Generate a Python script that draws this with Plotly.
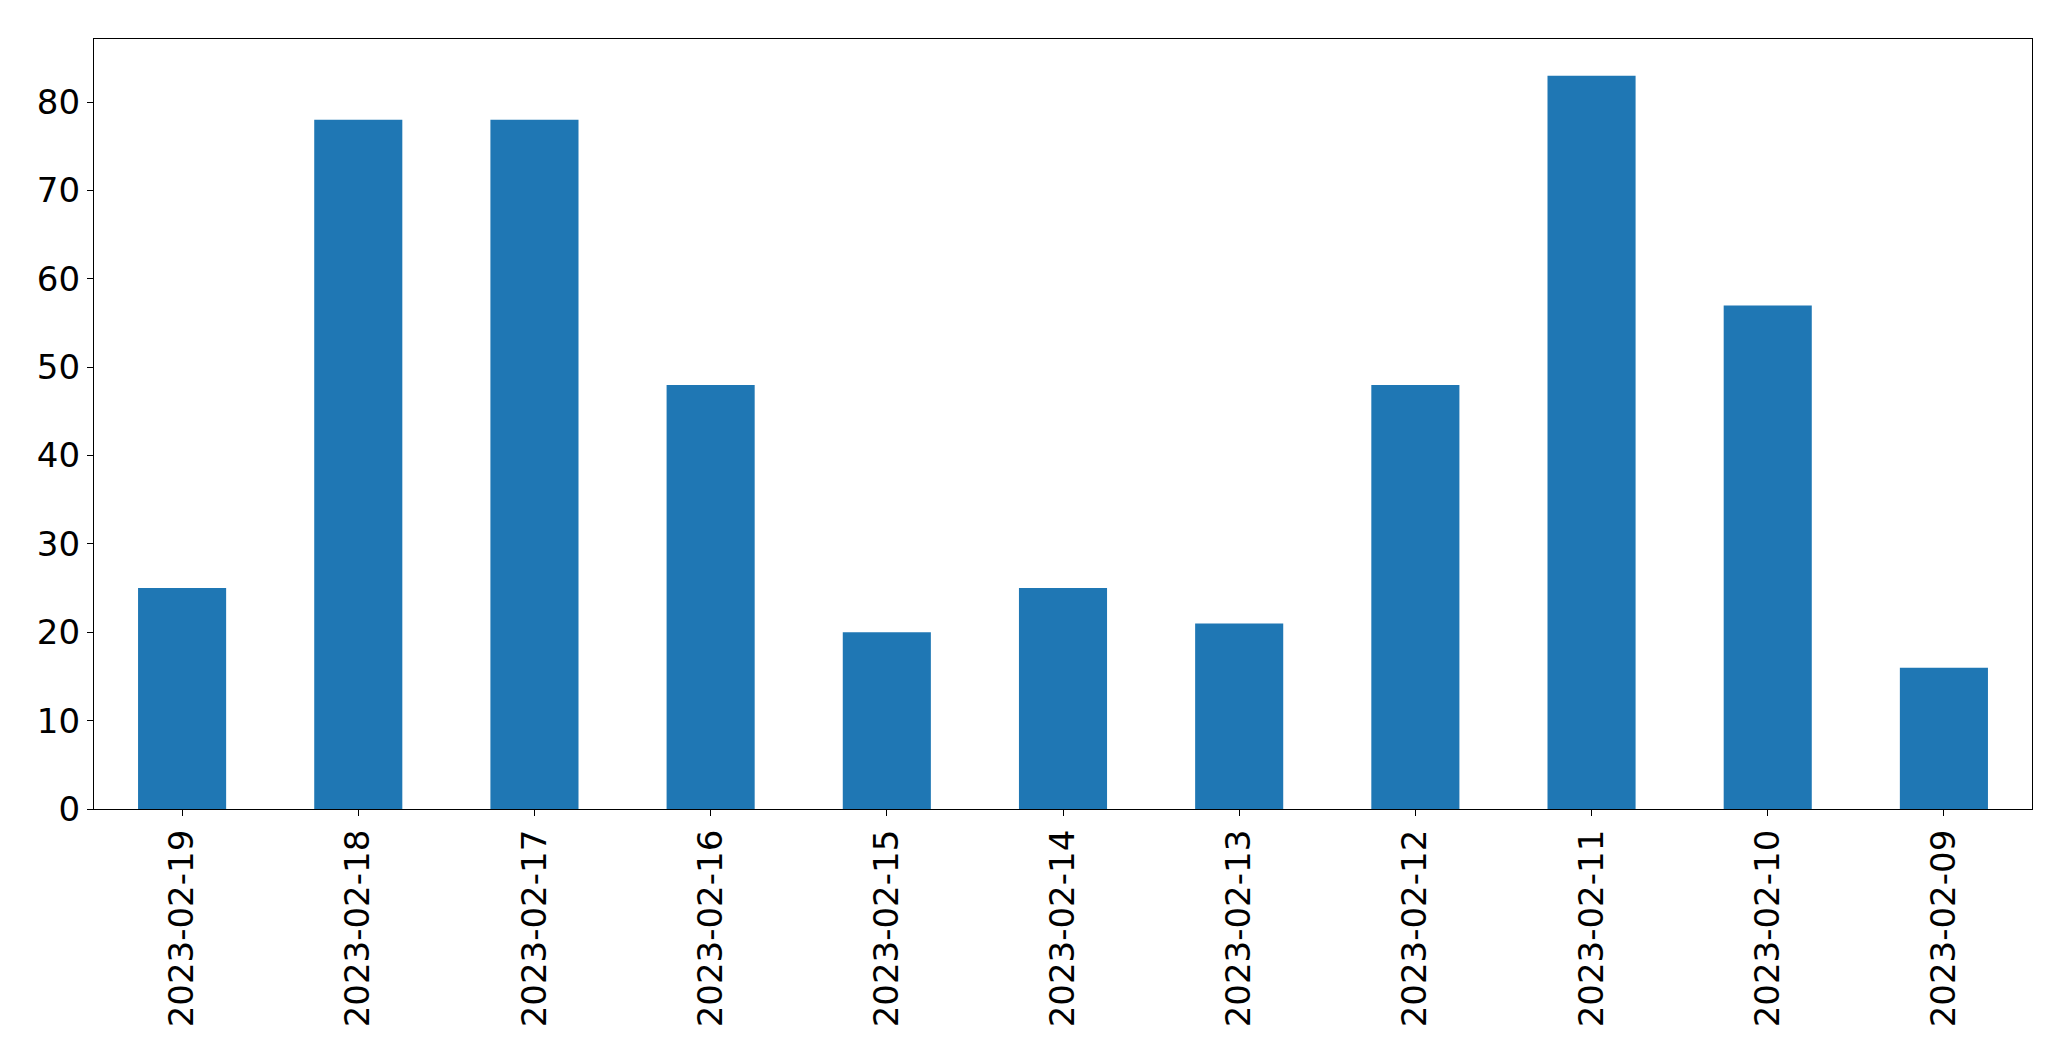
import plotly.graph_objects as go

dates = ["2023-02-19", "2023-02-18", "2023-02-17", "2023-02-16", "2023-02-15",
         "2023-02-14", "2023-02-13", "2023-02-12", "2023-02-11", "2023-02-10", "2023-02-09"]
values = [25, 78, 78, 48, 20, 25, 21, 48, 83, 57, 16]
y_ticks = [0, 10, 20, 30, 40, 50, 60, 70, 80]

fig = go.Figure(go.Bar(x=dates, y=values, marker=dict(color="#1f77b4", line=dict(width=0)), width=0.5))

font = dict(family="DejaVu Sans", size=34, color="black")
fig.update_layout(
    width=2071, height=1061,
    margin=dict(l=94, r=39, t=39, b=252),
    plot_bgcolor="white", paper_bgcolor="white",
    showlegend=False,
    font=font,
)
fig.update_xaxes(type="category", range=[-0.5, 10.5], tickangle=-90,
                 showline=True, mirror=True, linecolor="black", linewidth=1.3,
                 ticks="outside", ticklen=6, tickwidth=1.3, tickcolor="black",
                 showgrid=False, tickfont=font)
fig.update_yaxes(range=[0, 87.15], tickvals=y_ticks,
                 showline=True, mirror=True, linecolor="black", linewidth=1.3,
                 ticks="outside", ticklen=6, tickwidth=1.3, tickcolor="black",
                 showgrid=False, zeroline=False, tickfont=font)

fig.write_html("out.html", config={"displayModeBar": False},
               post_script="document.body.style.margin='0';document.body.style.overflow='hidden';")
